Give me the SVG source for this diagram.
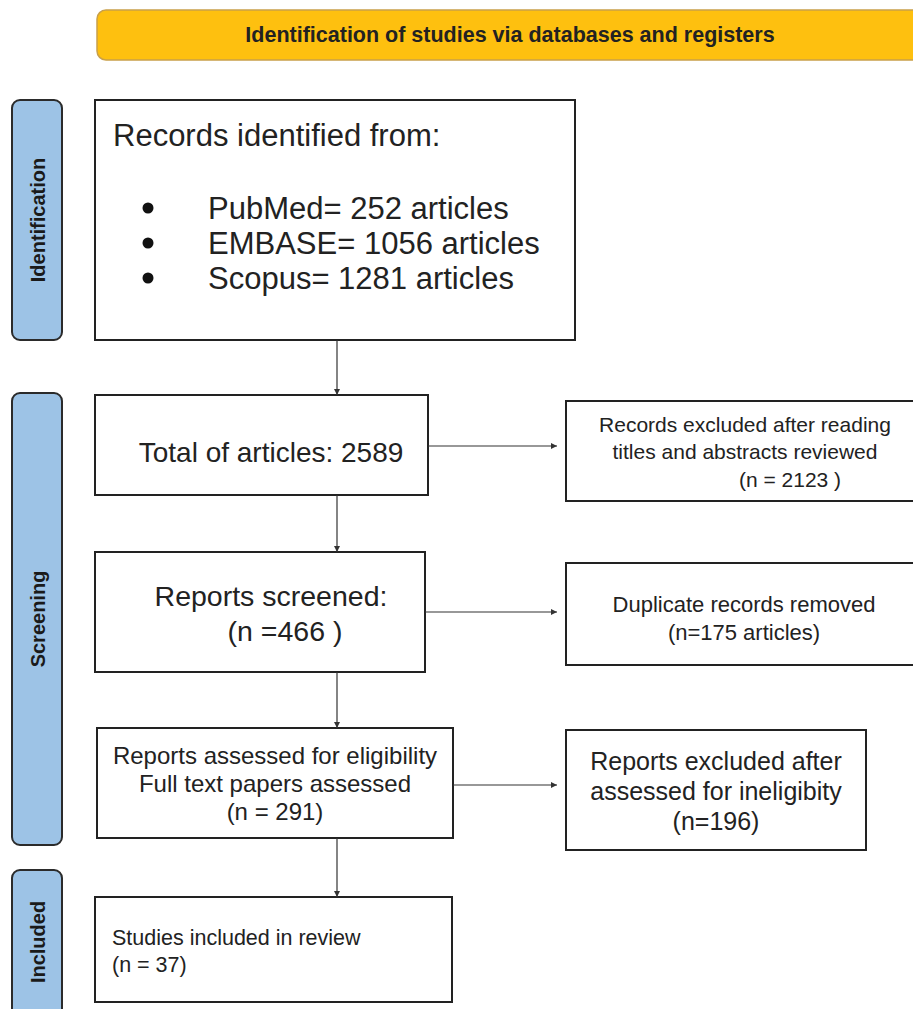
<svg xmlns="http://www.w3.org/2000/svg" width="913" height="1009" viewBox="0 0 913 1009">
<style>
  .box { fill: #ffffff; stroke: #222222; stroke-width: 2; }
  .side { fill: #9dc3e6; stroke: #2b2b2b; stroke-width: 2; }
  .side-t { font-family: "Liberation Sans", Arial, sans-serif; font-weight: bold; font-size: 20px; fill: #1a1a1a; text-anchor: middle; }
  .t { font-family: "Liberation Sans", Arial, sans-serif; fill: #222222; }
  .c { text-anchor: middle; }
  .conn { stroke: #333333; stroke-width: 1.2; fill: none; marker-end: url(#arr); }
</style>
<defs>
  <marker id="arr" viewBox="0 0 10 10" refX="10" refY="5" markerWidth="7" markerHeight="6" orient="auto" markerUnits="userSpaceOnUse">
    <path d="M0,0 L10,5 L0,10 z" fill="#333333"/>
  </marker>
</defs>
<rect width="913" height="1009" fill="#ffffff"/>

<g id="header">
  <rect x="97" y="10" width="830" height="50" rx="9" ry="9" fill="#fec00f" stroke="#c9a04a" stroke-width="1.5"/>
  <text class="t c" x="510" y="42" font-size="21.5" font-weight="bold" fill="#1a1a1a">Identification of studies via databases and registers</text>
</g>

<g id="side-identification">
  <rect class="side" x="12" y="100" width="50" height="240" rx="8" ry="8"/>
  <text class="side-t" transform="translate(44.5,220) rotate(-90)">Identification</text>
</g>
<g id="side-screening">
  <rect class="side" x="12" y="393" width="50" height="452" rx="8" ry="8"/>
  <text class="side-t" transform="translate(44.5,619) rotate(-90)">Screening</text>
</g>
<g id="side-included">
  <rect class="side" x="12" y="870" width="50" height="160" rx="8" ry="8"/>
  <text class="side-t" transform="translate(44.5,942) rotate(-90)">Included</text>
</g>

<g id="records-identified">
  <rect class="box" x="95" y="100" width="480" height="240"/>
  <text class="t" x="113" y="146" font-size="31">Records identified from:</text>
  <circle cx="148" cy="208" r="5.5" fill="#111"/>
  <circle cx="148" cy="243" r="5.5" fill="#111"/>
  <circle cx="148" cy="278" r="5.5" fill="#111"/>
  <text class="t" x="208" y="219" font-size="31">PubMed= 252 articles</text>
  <text class="t" x="208" y="254" font-size="31">EMBASE= 1056 articles</text>
  <text class="t" x="208" y="289" font-size="31">Scopus= 1281 articles</text>
</g>

<g id="total-articles">
  <rect class="box" x="95" y="395" width="333" height="100"/>
  <text class="t c" x="271" y="462" font-size="28">Total of articles: 2589</text>
</g>

<g id="records-excluded">
  <rect class="box" x="566" y="401" width="360" height="100"/>
  <text class="t c" x="745" y="432" font-size="21">Records excluded after reading</text>
  <text class="t c" x="745" y="459" font-size="21">titles and abstracts reviewed</text>
  <text class="t c" x="790" y="487" font-size="21">(n = 2123 )</text>
</g>

<g id="reports-screened">
  <rect class="box" x="95" y="552" width="330" height="120"/>
  <text class="t c" x="271" y="606" font-size="28.5">Reports screened:</text>
  <text class="t c" x="285" y="641" font-size="28.5">(n =466 )</text>
</g>

<g id="duplicates-removed">
  <rect class="box" x="566" y="563" width="360" height="102"/>
  <text class="t c" x="744" y="612" font-size="22">Duplicate records removed</text>
  <text class="t c" x="744" y="640" font-size="22">(n=175 articles)</text>
</g>

<g id="reports-eligibility">
  <rect class="box" x="97" y="728" width="356" height="110"/>
  <text class="t c" x="275" y="764" font-size="24">Reports assessed for eligibility</text>
  <text class="t c" x="275" y="792" font-size="24">Full text papers assessed</text>
  <text class="t c" x="275" y="820" font-size="24">(n = 291)</text>
</g>

<g id="reports-excluded">
  <rect class="box" x="566" y="730" width="300" height="120"/>
  <text class="t c" x="716" y="770" font-size="25">Reports excluded after</text>
  <text class="t c" x="716" y="800" font-size="25">assessed for ineligibity</text>
  <text class="t c" x="716" y="830" font-size="25">(n=196)</text>
</g>

<g id="studies-included">
  <rect class="box" x="95" y="897" width="357" height="105"/>
  <text class="t" x="112" y="945" font-size="21.5">Studies included in review</text>
  <text class="t" x="112" y="972" font-size="21.5">(n = 37)</text>
</g>

<g id="connectors">
  <line class="conn" x1="337" y1="340" x2="337" y2="395"/>
  <line class="conn" x1="337" y1="495" x2="337" y2="552"/>
  <line class="conn" x1="337" y1="672" x2="337" y2="728"/>
  <line class="conn" x1="337" y1="838" x2="337" y2="897"/>
  <line class="conn" x1="428" y1="446" x2="557" y2="446"/>
  <line class="conn" x1="425" y1="612" x2="557" y2="612"/>
  <line class="conn" x1="453" y1="785" x2="557" y2="785"/>
</g>
</svg>
